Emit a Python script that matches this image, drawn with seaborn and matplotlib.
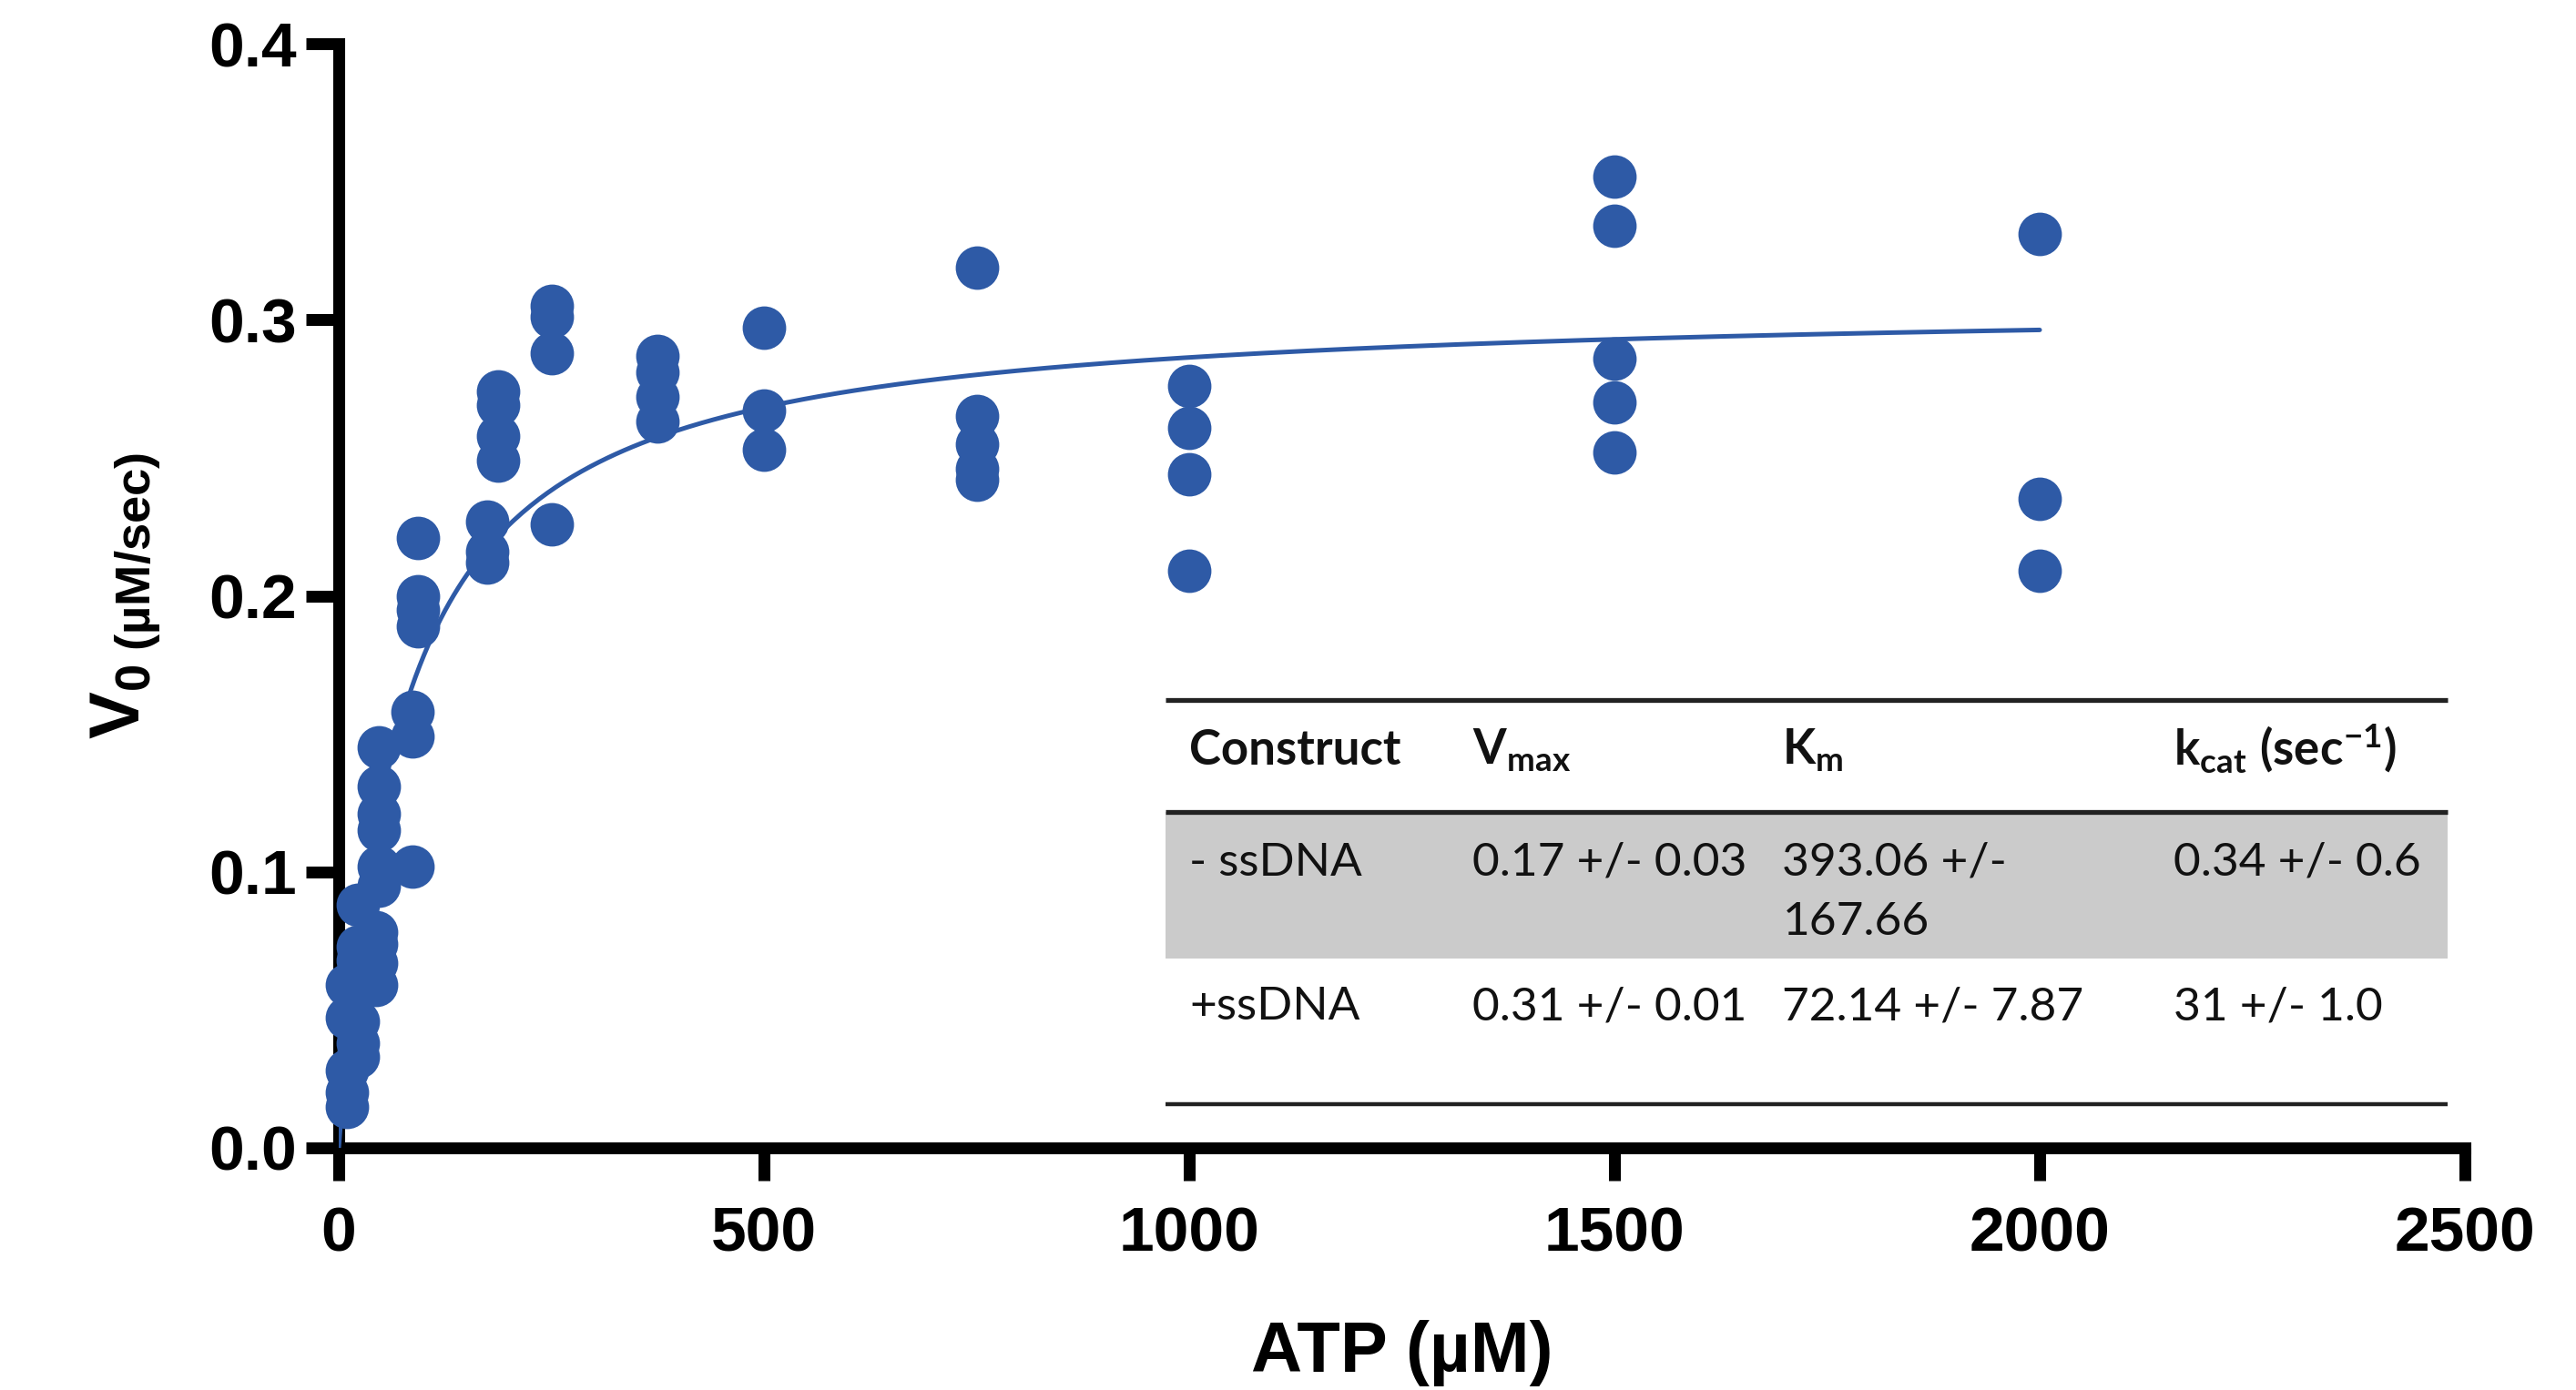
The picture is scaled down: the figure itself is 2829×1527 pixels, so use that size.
# ATP titration, initial velocity vs ATP with Michaelis-Menten fit + kinetics table
import numpy as np
import pandas as pd
import matplotlib
matplotlib.use("Agg")
import matplotlib.pyplot as plt
from matplotlib.patches import Rectangle
import seaborn as sns

# ---------------------------------------------------------
# DATA
# ---------------------------------------------------------
atp_um = [10, 10, 10, 10, 10,
          23, 23, 23, 23, 23, 23,
          44, 44, 44, 44,
          47, 47, 47, 47, 47, 47,
          87, 87, 87,
          93, 93, 93, 93,
          174, 174, 174,
          187, 187, 187, 187,
          250, 250, 250, 250,
          375, 375, 375, 375,
          500, 500, 500,
          750, 750, 750, 750, 750,
          1000, 1000, 1000, 1000,
          1500, 1500, 1500, 1500, 1500,
          2000, 2000, 2000]
v0 = [0.059, 0.047, 0.028, 0.020, 0.015,
      0.088, 0.073, 0.068, 0.046, 0.038, 0.033,
      0.078, 0.074, 0.067, 0.059,
      0.145, 0.131, 0.121, 0.115, 0.102, 0.095,
      0.158, 0.149, 0.102,
      0.221, 0.200, 0.195, 0.189,
      0.227, 0.216, 0.212,
      0.274, 0.269, 0.258, 0.249,
      0.305, 0.301, 0.288, 0.226,
      0.287, 0.281, 0.272, 0.263,
      0.297, 0.267, 0.253,
      0.319, 0.265, 0.255, 0.246, 0.242,
      0.276, 0.261, 0.244, 0.209,
      0.352, 0.334, 0.286, 0.270, 0.252,
      0.331, 0.235, 0.209]

# fitted Michaelis-Menten parameters (curve as drawn)
VMAX_FIT = 0.307
KM_FIT = 72.14
FIT_XMAX = 2000

x_ticks = [0, 500, 1000, 1500, 2000, 2500]
y_ticks = [0.0, 0.1, 0.2, 0.3, 0.4]

table_header = ["Construct", r"$\mathrm{V_{max}}$", r"$\mathrm{K_{m}}$",
                r"$\mathrm{k_{cat}\ (sec^{-1})}$"]
row_minus = ["- ssDNA", "0.17 +/- 0.03", "393.06 +/-", "0.34 +/- 0.6"]
row_minus_wrap = ["", "", "167.66", ""]
row_plus = ["+ssDNA", "0.31 +/- 0.01", "72.14 +/- 7.87", "31 +/- 1.0"]

BLUE = "#2E5AA6"

# ---------------------------------------------------------
# STYLE
# ---------------------------------------------------------
sns.set_style("ticks")
plt.rcParams["font.family"] = ["Liberation Sans", "DejaVu Sans"]
plt.rcParams["mathtext.fontset"] = "custom"
plt.rcParams["mathtext.bf"] = "Liberation Sans:bold"
plt.rcParams["mathtext.rm"] = "Lato:bold"
plt.rcParams["mathtext.it"] = "Lato:bold:italic"
plt.rcParams["axes.edgecolor"] = "black"
plt.rcParams["text.color"] = "black"
plt.rcParams["axes.labelcolor"] = "black"
plt.rcParams["xtick.color"] = "black"
plt.rcParams["ytick.color"] = "black"

df = pd.DataFrame({"ATP": atp_um, "V0": v0})
fit_x = np.linspace(0, FIT_XMAX, 400)
fit = pd.DataFrame({"ATP": fit_x, "V0": VMAX_FIT * fit_x / (KM_FIT + fit_x)})

fig = plt.figure(figsize=(14.145, 7.635), dpi=200)
ax = fig.add_axes([372 / 2829, 1 - 1261 / 1527, 2335 / 2829, 1213 / 1527])

sns.lineplot(data=fit, x="ATP", y="V0", ax=ax, color=BLUE, lw=1.8,
             sort=False, zorder=3)
sns.scatterplot(data=df, x="ATP", y="V0", ax=ax, color=BLUE, s=296,
                linewidth=0, zorder=4, clip_on=False)

ax.set_xlim(0, 2500)
ax.set_ylim(0, 0.4)
ax.set_xticks(x_ticks)
ax.set_yticks(y_ticks)
ax.set_yticklabels([f"{t:.1f}" for t in y_ticks])

sns.despine(ax=ax)
for side in ["left", "bottom"]:
    ax.spines[side].set_linewidth(4.7)
    ax.spines[side].set_color("black")
    ax.spines[side].set_capstyle("projecting")
ax.tick_params(axis="both", length=13, width=4.7, color="black",
               labelcolor="black")
ax.tick_params(axis="x", pad=10)
ax.tick_params(axis="y", pad=3.5)
for lab in ax.get_xticklabels() + ax.get_yticklabels():
    lab.set_fontsize(25)
    lab.set_fontweight("bold")

ax.set_xlabel("ATP (µM)", fontsize=28, fontweight="bold", labelpad=22,
              color="black")
ax.set_ylabel(r"$\mathbf{V}_{\mathbf{0\ (µM/sec)}}$", fontsize=28,
              color="black")
ax.yaxis.set_label_coords(-0.083, 0.5)

# ---------------------------------------------------------
# KINETICS TABLE (inset)
# ---------------------------------------------------------
tr = ax.transAxes
x_left, x_right = 0.389, 0.992
ax.add_patch(Rectangle((x_left, 0.1715), x_right - x_left, 0.3045 - 0.1715,
                       transform=tr, facecolor="#CBCBCB", edgecolor="none",
                       zorder=1))
for yy, lw in [(0.4056, 1.9), (0.3045, 1.9), (0.0396, 1.6)]:
    ax.plot([x_left, x_right], [yy, yy], transform=tr, color="#222222",
            lw=lw, zorder=2, solid_capstyle="butt")

col_x = [0.400, 0.533, 0.679, 0.863]
for cx, txt in zip(col_x, table_header):
    ax.text(cx, 0.347, txt, transform=tr, family="Lato", fontweight="bold",
            fontsize=19, va="baseline", ha="left", color="#111111")
for rows, ry in [(row_minus, 0.2465), (row_minus_wrap, 0.1929),
                 (row_plus, 0.1162)]:
    for cx, txt in zip(col_x, rows):
        if txt:
            ax.text(cx, ry, txt, transform=tr, family="Lato", fontsize=18.5,
                    va="baseline", ha="left", color="#111111")

fig.savefig("out.png", dpi=200)
